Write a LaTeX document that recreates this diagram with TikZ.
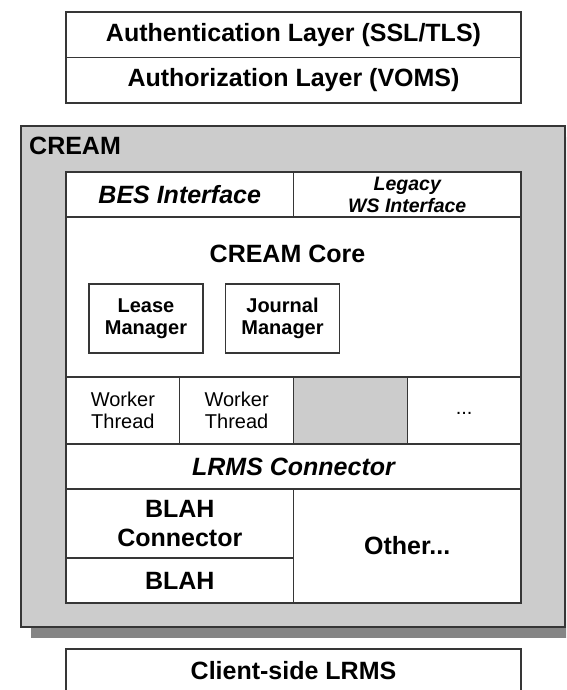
\documentclass[tikz,border=0pt]{standalone}
\usepackage{fontspec}
\setmainfont{Liberation Sans}
\usetikzlibrary{positioning,shadows}
\definecolor{edgegray}{HTML}{363636}
\definecolor{panelgray}{HTML}{CCCCCC}
\definecolor{shadowgray}{HTML}{858585}

\begin{document}
\begin{tikzpicture}[x=1pt,y=-1pt,
            layer/.style={draw=edgegray,line width=1.4pt,fill=white,inner sep=0pt,outer sep=0pt,
              align=center,font=\bfseries\fontsize{25}{28.5}\selectfont},
            wide/.style={layer,minimum width=455,minimum height=#1},
            half/.style={layer,minimum width=227.5,minimum height=#1},
            ital/.style={font=\bfseries\itshape\fontsize{25}{28}\selectfont},
            manager/.style={layer,minimum width=114,minimum height=69,font=\bfseries\fontsize{20}{22}\selectfont},
            thread/.style={layer,minimum width=113.75,minimum height=67,font=\fontsize{20}{22}\selectfont},
            panel/.style={draw=edgegray,line width=1.4pt,fill=panelgray,inner sep=0pt,outer sep=0pt,
              minimum width=544,minimum height=501,
              drop shadow={shadow xshift=10pt,shadow yshift=-11pt,fill=shadowgray,opacity=1}}
          ]
          \clip (0,0) rectangle (566,690);

          %security layers
          \node[wide=45.5,anchor=north west] (auth) at (66,12) {Authentication Layer (SSL/TLS)};
          \node[wide=45.5,below=0pt of auth] (authz) {Authorization Layer (VOMS)};

          %CREAM container
          \node[panel,anchor=north west] (cream) at (21,126) {};
          \node[anchor=west,inner sep=0pt,font=\bfseries\fontsize{25}{28}\selectfont] (creamlab) at (29,146) {CREAM};

          %interfaces
          \node[half=45,ital,anchor=north west] (bes) at (66,172) {BES Interface};
          \node[half=45,right=0pt of bes,font=\bfseries\itshape\fontsize{19.5}{22}\selectfont] (legacy) {Legacy\\WS Interface};

          %core
          \node[wide=160,anchor=north west] (core) at (66,217) {};
          \node[font=\bfseries\fontsize{25}{28}\selectfont] (coretitle) at (287.5,254) {CREAM Core};
          \node[manager] (lease) at (146,318.5) {Lease\\Manager};
          \node[manager] (journal) at (282.5,318.5) {Journal\\Manager};

          %worker threads
          \node[thread,anchor=north west] (w1) at (66,377) {Worker\\Thread};
          \node[thread,right=0pt of w1] (w2) {Worker\\Thread};
          \node[thread,right=0pt of w2,fill=panelgray] (w3) {};
          \node[thread,right=0pt of w3] (w4) {\strut...};

          %connectors
          \node[wide=45,ital,anchor=north west] (lrms) at (66,444) {LRMS Connector};
          \node[half=69,anchor=north west] (blahconn) at (66,489) {BLAH\\Connector};
          \node[half=45,below=0pt of blahconn] (blah) {BLAH};
          \node[half=114,right=0pt of blahconn.north east,anchor=north west] (other) {Other...};

          %below CREAM
          \node[wide=44,anchor=north west] (client) at (66,649) {Client-side LRMS};

      \end{tikzpicture}
\end{document}
